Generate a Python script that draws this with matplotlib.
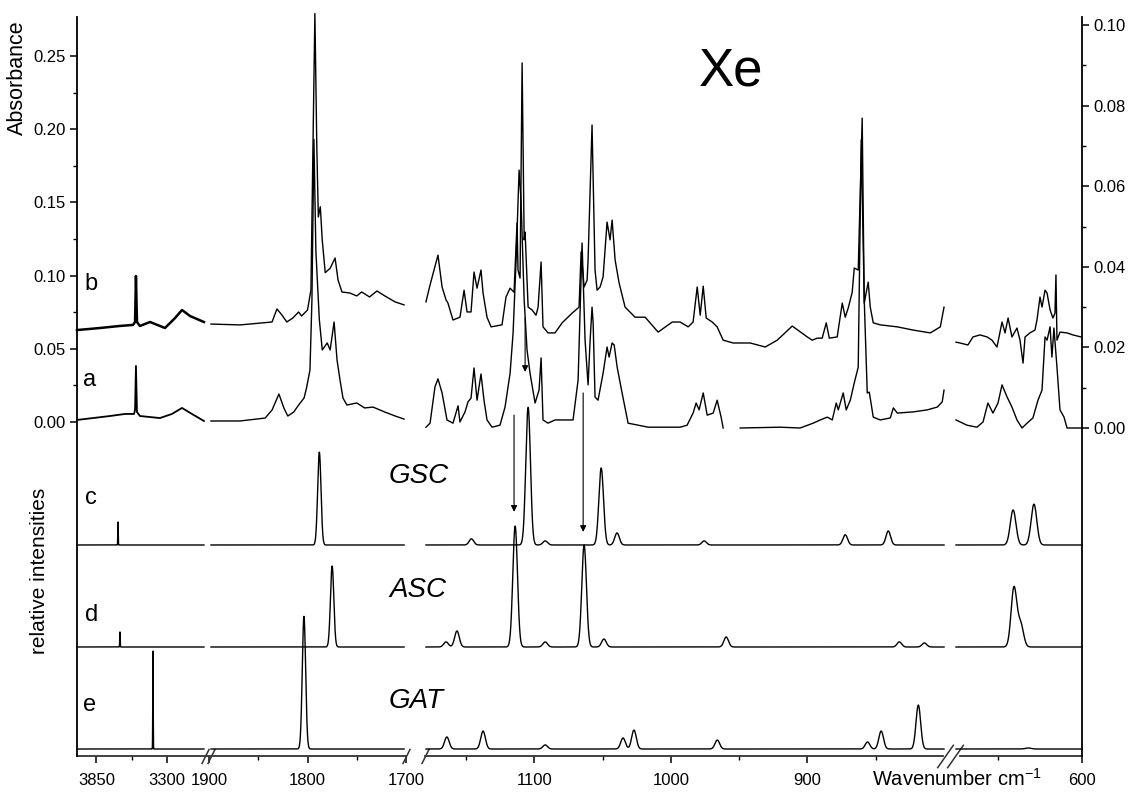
import numpy as np
import matplotlib
matplotlib.use("Agg")
import matplotlib.pyplot as plt

plt.rcParams['font.family'] = ['Liberation Sans', 'DejaVu Sans']
plt.rcParams['mathtext.fontset'] = 'custom'
plt.rcParams['mathtext.rm'] = 'Liberation Sans'

# broken wavenumber axis: shown windows, their width on the axis and the gaps between them
WINDOWS = [(4000, 3000), (1900, 1700), (1180, 800), (675, 600)]
WIN_WIDTH = [129, 197, 519, 126]
WIN_GAP = [3, 19, 12]

# ---- experimental spectra (cm-1, absorbance) ----
# 4000-3000 window, left scale
B1_WN = [4000, 3822, 3667, 3566, 3550, 3543, 3535, 3512, 3434, 3318, 3240, 3186, 3124, 3016]
B1_ABS = [0.0628, 0.0642, 0.0656, 0.0663, 0.0683, 0.0997, 0.0683, 0.0656, 0.0683, 0.0642,
          0.0710, 0.0765, 0.0724, 0.0683]
A1_WN = [4000, 3744, 3628, 3558, 3550, 3543, 3535, 3512, 3357, 3264, 3186, 3109, 3016]
A1_ABS = [0.0014, 0.0041, 0.0055, 0.0055, 0.0082, 0.0383, 0.0068, 0.0041, 0.0027, 0.0055,
          0.0096, 0.0055, 0.0007]

# 1900-1700 window, left scale
B2_WN = [1898, 1868.5, 1836, 1831, 1826, 1821, 1815, 1809, 1806, 1800, 1796.5, 1794.5, 1792.5,
         1790.5, 1789, 1787, 1785, 1782, 1777, 1772, 1769, 1765, 1757, 1750, 1745, 1737,
         1729.5, 1721.5, 1711, 1702]
B2_ABS = [0.0669, 0.0663, 0.0683, 0.0772, 0.0731, 0.0683, 0.0710, 0.0751, 0.0724, 0.0765,
          0.0902, 0.186, 0.279, 0.186, 0.140, 0.147, 0.124, 0.102, 0.105, 0.112, 0.097,
          0.0888, 0.0881, 0.0861, 0.0888, 0.0854, 0.0895, 0.0861, 0.082, 0.080]
A2_WN = [1898, 1868.5, 1843, 1836, 1829, 1824, 1820, 1814, 1809, 1803.5, 1801, 1797.5, 1795.5,
         1793.5, 1791.5, 1788, 1785, 1780, 1777, 1773, 1770, 1767, 1764, 1760, 1750, 1742,
         1733.5, 1721.5, 1711, 1702]
A2_ABS = [0.0007, 0.0007, 0.0027, 0.0082, 0.0191, 0.0096, 0.0041, 0.0068, 0.0116, 0.0164,
          0.0232, 0.0355, 0.0833, 0.193, 0.117, 0.070, 0.0492, 0.054, 0.0492, 0.0683,
          0.0423, 0.0287, 0.0164, 0.0116, 0.013, 0.0096, 0.0102, 0.0068, 0.0041, 0.002]

# 1180-800 window, right scale
B3_WN = [1179.3, 1176.3, 1170.5, 1167.5, 1164.6, 1163.2, 1159.5, 1154.4, 1151.4, 1149.2,
         1146.3, 1144.1, 1141.9, 1139.0, 1137.5, 1134.6, 1131.6, 1123.6, 1120.7, 1117.7,
         1114.8, 1112.6, 1111.9, 1110.4, 1108.9, 1107.4, 1106.7, 1104.5, 1101.6, 1098.7,
         1097.2, 1095.0, 1093.6, 1089.9, 1084.8, 1079.6, 1072.3, 1067.2, 1065.7, 1063.5,
         1061.3, 1060.6, 1057.7, 1055.5, 1054.0, 1051.8, 1049.6, 1046.7, 1044.5, 1043.0,
         1040.8, 1037.9, 1033.5, 1026.2, 1018.8, 1009.3, 999.0, 993.2, 987.3, 983.7,
         980.7, 978.5, 976.3, 974.1, 969.7, 966.1, 961.7, 954.4, 941.9, 930.9,
         922.1, 911.1, 900.1, 896.5, 892.8, 889.2, 886.2, 884.0, 878.2, 874.5,
         872.3, 870.1, 867.2, 865.7, 862.8, 859.9, 858.4, 855.5, 854.0, 851.8,
         846.7, 834.2, 822.5, 810.0, 802.7, 799.8]
B3_ABS = [0.0313, 0.0355, 0.0429, 0.0350, 0.0318, 0.0310, 0.0268, 0.0275, 0.0342, 0.0288,
          0.0288, 0.0387, 0.0347, 0.0392, 0.0335, 0.0275, 0.0251, 0.0256, 0.0325, 0.0347,
          0.0337, 0.0509, 0.0392, 0.0372, 0.0906, 0.0467, 0.0486, 0.0300, 0.0293, 0.0280,
          0.0300, 0.0412, 0.0251, 0.0236, 0.0236, 0.0261, 0.0285, 0.0300, 0.0437, 0.0350,
          0.0367, 0.0417, 0.0752, 0.0392, 0.0342, 0.0350, 0.0375, 0.0511, 0.0467, 0.0516,
          0.0417, 0.0360, 0.0300, 0.0275, 0.0275, 0.0238, 0.0263, 0.0263, 0.0251, 0.0263,
          0.0350, 0.0280, 0.0352, 0.0273, 0.0263, 0.0251, 0.0218, 0.0211, 0.0211, 0.0201,
          0.0218, 0.0253, 0.0226, 0.0218, 0.0223, 0.0223, 0.0261, 0.0223, 0.0226, 0.0310,
          0.0275, 0.0298, 0.0337, 0.0397, 0.0392, 0.0769, 0.0310, 0.0362, 0.0300, 0.0261,
          0.0256, 0.0251, 0.0243, 0.0236, 0.0251, 0.0300]
A3A_WN = [1179.3, 1176.3, 1172.7, 1170.5, 1167.5, 1163.9, 1159.5, 1155.8, 1154.4, 1150.7,
          1148.5, 1146.3, 1144.1, 1141.9, 1139.0, 1136.8, 1134.6, 1130.9, 1125.1, 1121.4,
          1117.7, 1115.5, 1113.3, 1111.1, 1109.7, 1107.4, 1105.3, 1103.1, 1099.4, 1096.5,
          1095.0, 1093.6, 1089.9, 1084.8, 1077.4, 1071.6, 1067.9, 1065.0, 1062.8, 1060.6,
          1059.1, 1057.7, 1056.9, 1055.5, 1053.3, 1049.6, 1046.7, 1045.2, 1043.0, 1041.5,
          1039.3, 1035.7, 1031.3, 1016.6, 993.2, 988.1, 983.7, 981.5, 979.3, 976.3,
          973.4, 969.0, 966.1, 963.2, 961.7]
A3A_ABS = [0.0002, 0.0012, 0.0102, 0.0122, 0.0087, 0.0020, 0.0012, 0.0055, 0.0015, 0.0040,
           0.0065, 0.0074, 0.0149, 0.0069, 0.0134, 0.0069, 0.0020, 0.0002, 0.0007, 0.0052,
           0.0136, 0.0236, 0.0417, 0.0640, 0.0566, 0.0318, 0.0194, 0.0136, 0.0062, 0.0094,
           0.0174, 0.0020, 0.0012, 0.0020, 0.0020, 0.0020, 0.0119, 0.0459, 0.0218, 0.0107,
           0.0218, 0.0300, 0.0261, 0.0077, 0.0069, 0.0136, 0.0201, 0.0176, 0.0211, 0.0206,
           0.0151, 0.0087, 0.0012, 0.0002, 0.0002, 0.0007, 0.0037, 0.0062, 0.0045, 0.0087,
           0.0032, 0.0037, 0.0069, 0.0027, 0.0000]
A3B_WN = [949.2, 919.9, 905.3, 895.8, 890.6, 885.5, 881.8, 878.9, 877.4, 873.8, 871.6, 868.6,
          865.7, 862.8, 860.6, 858.4, 856.2, 854.7, 851.8, 846.7, 839.3, 837.1, 834.2, 822.5,
          812.2, 804.9, 801.3, 799.8]
A3B_ABS = [0.0000, 0.0002, 0.0000, 0.0012, 0.0020, 0.0027, 0.0020, 0.0062, 0.0045, 0.0087,
           0.0045, 0.0069, 0.0112, 0.0151, 0.0715, 0.0318, 0.0087, 0.0089, 0.0027, 0.0020,
           0.0025, 0.0050, 0.0037, 0.0040, 0.0045, 0.0052, 0.0065, 0.0094]

# 675-600 window, right scale
B4_WN = [675, 672.6, 667.9, 664.9, 660.7, 656.5, 653.6, 650.6, 647.6, 645.8, 644.0, 641.7,
         638.7, 636.9, 635.1, 633.9, 631.0, 628.0, 626.8, 625.0, 623.8, 622.0, 620.8, 619.0,
         617.3, 616.1, 615.5, 614.9, 613.1, 608.9, 605.4, 600.6]
B4_ABS = [0.0213, 0.0211, 0.0206, 0.0226, 0.0231, 0.0226, 0.0218, 0.0201, 0.0263, 0.0236,
          0.0273, 0.0226, 0.0248, 0.0218, 0.0161, 0.0226, 0.0236, 0.0243, 0.0268, 0.0325,
          0.0300, 0.0342, 0.0335, 0.0293, 0.0273, 0.0285, 0.0380, 0.0218, 0.0238, 0.0236,
          0.0231, 0.0226]
A4_WN = [675, 668.5, 662.5, 658.9, 656.0, 653.0, 650.0, 647.6, 644.6, 641.7, 638.7, 635.7,
         632.7, 629.2, 626.2, 623.8, 622.0, 620.8, 619.0, 617.9, 616.7, 614.9, 613.1, 610.7,
         608.9, 605.4, 600.6]
A4_ABS = [0.0020, 0.0007, 0.0002, 0.0015, 0.0062, 0.0037, 0.0062, 0.0107, 0.0077, 0.0052,
          0.0020, 0.0000, 0.0012, 0.0025, 0.0069, 0.0094, 0.0226, 0.0218, 0.0251, 0.0176,
          0.0248, 0.0151, 0.0045, 0.0027, 0.0000, 0.0000, 0.0000]

# ---- calculated band positions (cm-1) and relative intensities ----
GSC_POS = [3682, 1788, 1146, 1104.5, 1092, 1051, 1039.4, 975.6, 872.3, 840.8, 641, 628.6]
GSC_INT = [0.225, 0.91, 0.06, 1.35, 0.04, 0.755, 0.118, 0.04, 0.10, 0.137, 0.343, 0.40]
ASC_POS = [3667, 1775, 1164.6, 1156.6, 1114, 1092, 1063.5, 1049, 959.5, 832.7, 814.4, 640.5, 636.5]
ASC_INT = [0.147, 0.794, 0.05, 0.157, 1.186, 0.05, 1.0, 0.078, 0.098, 0.05, 0.04, 0.58, 0.22]
GAT_POS = [3411, 1803.6, 1164, 1137.5, 1092, 1035, 1027, 966, 856, 846, 818.8, 632]
GAT_INT = [0.96, 1.30, 0.118, 0.176, 0.04, 0.108, 0.186, 0.088, 0.069, 0.176, 0.431, 0.01]

# arrows linking observed and calculated bands (cm-1, right-scale from / to)
ARROW_WN = [1106.7, 1114.8, 1064.2]
ARROW_FROM = [0.0273, 0.0032, 0.0087]
ARROW_TO = [0.0139, -0.0208, -0.0258]

MAJOR_TICKS = [3850, 3300, 1900, 1800, 1700, 1100, 1000, 900, 600]
MINOR_TICKS = [3575, 1850, 1750, 1150, 1050, 950, 850, 650]

# piecewise-linear wavenumber scale (increasing in wavenumber, axis drawn reversed)
knot_wn, knot_pos, p = [], [], 0.0
for i, (w0, w1) in enumerate(WINDOWS):
    knot_wn += [w0, w1]
    knot_pos += [p, p + WIN_WIDTH[i]]
    p += WIN_WIDTH[i] + (WIN_GAP[i] if i < len(WIN_GAP) else 0)
knot_wn = np.array(knot_wn, float)
knot_pos = np.array(knot_pos, float)


def fwd(x):
    return -np.interp(-np.asarray(x, float), -knot_wn, knot_pos)


def inv(q):
    return np.interp(-np.asarray(q, float), knot_pos, knot_wn)


def bands(grid, pos, inten, fwhm=4.0):
    s = fwhm / 2.3548
    return sum(h * np.exp(-0.5 * ((grid - c) / s) ** 2) for c, h in zip(pos, inten))


W, H = 1131, 796
fig = plt.figure(figsize=(W / 100, H / 100), dpi=100)
x0, x1, ytop, ybot = 77, 1082, 17, 756
ax = fig.add_axes([x0 / W, 1 - ybot / H, (x1 - x0) / W, (ybot - ytop) / H])
ax.set_xscale('function', functions=(fwd, inv))

ax2 = ax.twinx()
ax3 = ax.twinx()
ax3.axis('off')

kw = dict(color='black', lw=1.0, clip_on=False)
ax.plot(B1_WN, B1_ABS, color='black', lw=1.8, clip_on=False)
ax.plot(A1_WN, A1_ABS, color='black', lw=1.3, clip_on=False)
ax.plot(B2_WN, B2_ABS, **kw)
ax.plot(A2_WN, A2_ABS, **kw)
ax2.plot(B3_WN, B3_ABS, **kw)
ax2.plot(A3A_WN, A3A_ABS, **kw)
ax2.plot(A3B_WN, A3B_ABS, **kw)
ax2.plot(B4_WN, B4_ABS, **kw)
ax2.plot(A4_WN, A4_ABS, **kw)

# calculated spectra, stacked c / d / e
seg_ranges = [(4000, 3016), (1898, 1702), (1179.3, 799.8), (675, 600)]
for base, pos, inten in [(2, GSC_POS, GSC_INT), (1, ASC_POS, ASC_INT), (0, GAT_POS, GAT_INT)]:
    for w0, w1 in seg_ranges:
        grid = np.linspace(w0, w1, int((w0 - w1) * 8) + 1)
        ax3.plot(grid, base + bands(grid, pos, inten), color='black', lw=1.0, clip_on=False)

for wn, y0, y1 in zip(ARROW_WN, ARROW_FROM, ARROW_TO):
    ax2.annotate('', xy=(wn, y1), xytext=(wn, y0),
                 arrowprops=dict(arrowstyle='-|>', lw=0.8, color='black',
                                 mutation_scale=9, shrinkA=0, shrinkB=0))

# axes styling
for s in ['top', 'right', 'bottom']:
    ax.spines[s].set_visible(False)
for s in ['top', 'left', 'bottom']:
    ax2.spines[s].set_visible(False)
ax.spines['left'].set_linewidth(1.3)
ax2.spines['right'].set_linewidth(1.3)

ax.set_yticks(np.arange(0, 0.251, 0.05))
ax.set_yticks(np.arange(0.025, 0.23, 0.05), minor=True)
ax.yaxis.set_major_formatter('{x:.2f}')
ax2.set_yticks(np.arange(0, 0.101, 0.02))
ax2.set_yticks(np.arange(0.01, 0.1, 0.02), minor=True)
ax2.yaxis.set_major_formatter('{x:.2f}')

ax.set_xticks(MAJOR_TICKS)
ax.set_xticklabels([str(t) for t in MAJOR_TICKS])
ax.set_xticks(MINOR_TICKS, minor=True)

for a in (ax, ax2):
    a.tick_params(which='major', direction='out', length=5, width=1.1, labelsize=12, pad=3)
    a.tick_params(which='minor', direction='out', length=3, width=1.0)
ax.tick_params(axis='x', which='major', pad=7)

# bottom axis pieces with break marks
xt = ax.get_xaxis_transform()
for w0, w1 in [(4000, 1700), (1180, 800.5), (672.6, 600)]:
    ax.plot([w0, w1], [0, 0], transform=xt, color='#333333', lw=1.3, clip_on=False)
frac = lambda px: (px - x0) / (x1 - x0)
ax.plot([frac(205), frac(210.5), frac(406), frac(425)], [0] * 4, transform=ax.transAxes,
        ls='none', marker=[(-0.5, -1), (0.5, 1)], ms=11, mew=1.1, mec='#333333', clip_on=False)
ax.plot([frac(945), frac(955)], [0] * 2, transform=ax.transAxes,
        ls='none', marker=[(-0.7, -1), (0.7, 1)], ms=17, mew=1.1, mec='#333333', clip_on=False)

# limits last so the shared x autoscale leaves them alone
ax.set_xlim(4000, 600)
ax.set_ylim(-0.2281, 0.2766)
ax2.set_ylim(-0.0814, 0.1020)
ax3.set_ylim(-0.0686, 7.176)

# labels
fx = lambda px: px / W
fy = lambda py: 1 - py / H
fig.text(fx(17), fy(78), 'Absorbance', rotation=90, ha='center', va='center', fontsize=15.5)
fig.text(fx(40), fy(571), 'relative intensities', rotation=90, ha='center', va='center',
         fontsize=15)
for lab, (px, py) in zip('bacde', [(91, 284), (90, 380), (91, 498), (92, 615), (90, 705)]):
    fig.text(fx(px), fy(py), lab, ha='center', va='center', fontsize=17)
for lab, py in zip(['GSC', 'ASC', 'GAT'], [483, 597, 708]):
    fig.text(fx(389), fy(py), lab, ha='left', va='baseline', fontsize=20, style='italic')
fig.text(fx(731), fy(85), 'Xe', ha='center', va='baseline', fontsize=38)
fig.text(fx(872), fy(786), r'Wavenumber cm$^{-1}$', ha='left', va='baseline', fontsize=14.5)

fig.savefig('out.png', dpi=100)
